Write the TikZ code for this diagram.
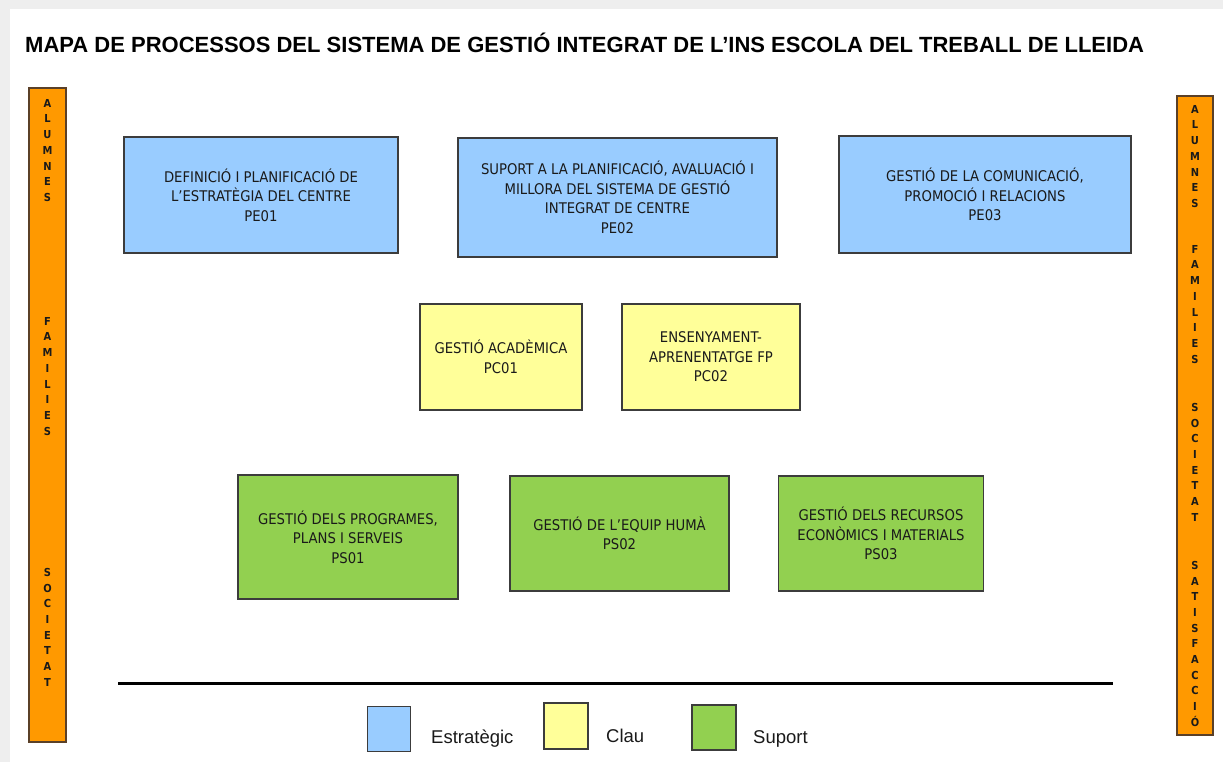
\documentclass[tikz,border=0pt]{standalone}
\usepackage{fontspec}
\setmainfont{Liberation Sans}
\newfontfamily\boxfont{DejaVu Sans Condensed}
\definecolor{cblue}{HTML}{99CCFF}
\definecolor{cyellow}{HTML}{FFFF99}
\definecolor{cgreen}{HTML}{92D050}
\definecolor{corange}{HTML}{FF9900}
\definecolor{cborder}{HTML}{3C3C3C}
\definecolor{cbar}{HTML}{5A4028}
\definecolor{ctext}{HTML}{1A1A1A}
\definecolor{cframe}{HTML}{EEEEEE}
\tikzset{
  proc/.style={draw=cborder, line width=1.2pt, align=center, inner sep=0pt, text=ctext,
    font=\boxfont\fontsize{14.7}{19.5}\selectfont},
  estr/.style={proc, fill=cblue},
  clau/.style={proc, fill=cyellow},
  supo/.style={proc, fill=cgreen},
  sidebar/.style={draw=cbar, line width=1.2pt, fill=corange},
  barword/.style={anchor=north, align=center, inner sep=0pt, text=ctext,
    font=\boxfont\bfseries\fontsize{11}{15.7}\selectfont},
  legsq/.style={draw=cborder, line width=1.2pt, inner sep=0pt, minimum width=43pt, minimum height=45pt},
  legtxt/.style={anchor=base west, inner sep=0pt, text=ctext, font=\fontsize{18.5}{22}\selectfont}
}
\begin{document}
\begin{tikzpicture}[x=1pt, y=-1pt]
\useasboundingbox (0,0) rectangle (1223,762);
\fill[cframe] (0,0) rectangle (1223,762);
\fill[white] (10,9) rectangle (1223,762);

\node[anchor=base west, inner sep=0pt, font=\bfseries\fontsize{22}{26}\selectfont] (title) at (25,53)
  {MAPA DE PROCESSOS DEL SISTEMA DE GESTIÓ INTEGRAT DE L’INS ESCOLA DEL TREBALL DE LLEIDA};

% side bars
\draw[sidebar] (29,88) rectangle (66,742);
\node[barword] (la) at (47.5,99) {A\\L\\U\\M\\N\\E\\S};
\node[barword] (lf) at (47.5,317) {F\\A\\M\\I\\L\\I\\E\\S};
\node[barword] (ls) at (47.5,568) {S\\O\\C\\I\\E\\T\\A\\T};

\draw[sidebar] (1177,96) rectangle (1213,735);
\node[barword] (ra) at (1195,105) {A\\L\\U\\M\\N\\E\\S};
\node[barword] (rf) at (1195,245) {F\\A\\M\\I\\L\\I\\E\\S};
\node[barword] (rs) at (1195,403) {S\\O\\C\\I\\E\\T\\A\\T};
\node[barword] (rt) at (1195,561) {S\\A\\T\\I\\S\\F\\A\\C\\C\\I\\Ó};

% strategic
\node[estr, minimum width=274pt, minimum height=116pt] (pe01) at (261,195)
  {DEFINICIÓ I PLANIFICACIÓ DE\\L’ESTRATÈGIA DEL CENTRE\\PE01};
\node[estr, minimum width=319pt, minimum height=119pt] (pe02) at (617.5,197.5)
  {SUPORT A LA PLANIFICACIÓ, AVALUACIÓ I\\MILLORA DEL SISTEMA DE GESTIÓ\\INTEGRAT DE CENTRE\\PE02};
\node[estr, minimum width=292pt, minimum height=117pt] (pe03) at (985,194.5)
  {GESTIÓ DE LA COMUNICACIÓ,\\PROMOCIÓ I RELACIONS\\PE03};

% key
\node[clau, minimum width=162pt, minimum height=106pt] (pc01) at (501,357)
  {GESTIÓ ACADÈMICA\\PC01};
\node[clau, minimum width=178pt, minimum height=106pt] (pc02) at (711,357)
  {ENSENYAMENT-\\APRENENTATGE FP\\PC02};

% support
\node[supo, minimum width=220pt, minimum height=124pt] (ps01) at (348,537)
  {GESTIÓ DELS PROGRAMES,\\PLANS I SERVEIS\\PS01};
\node[supo, minimum width=219pt, minimum height=115pt] (ps02) at (619.5,533.5)
  {GESTIÓ DE L’EQUIP HUMÀ\\PS02};
\node[supo, minimum width=205pt, minimum height=115pt] (ps03) at (881,533.5)
  {GESTIÓ DELS RECURSOS\\ECONÒMICS I MATERIALS\\PS03};

% legend
\coordinate (lineL) at (118,683);
\coordinate (lineR) at (1113,683);
\draw[line width=3pt, black] (lineL) -- (lineR);
\node[legsq, fill=cblue] (sqb) at (389,729) {};
\node[legsq, fill=cyellow, minimum width=44pt, minimum height=46pt] (sqy) at (566,726) {};
\node[legsq, fill=cgreen, minimum width=44pt] (sqg) at (714,727.5) {};
\node[legtxt] (tb) at (431,743) {Estratègic};
\node[legtxt] (ty) at (606,742) {Clau};
\node[legtxt] (tg) at (753,743) {Suport};
\end{tikzpicture}
\end{document}
